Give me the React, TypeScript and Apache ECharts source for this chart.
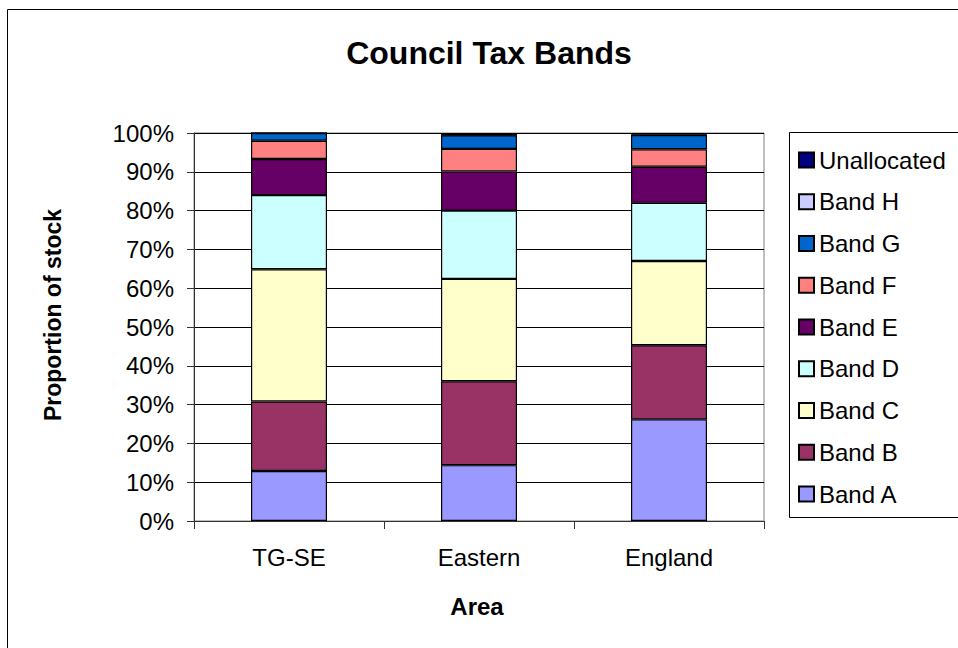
import React, { useEffect, useRef } from "react";
import * as echarts from "echarts";

const categories = ["TG-SE", "Eastern", "England"];
const bandNames = ["Band A", "Band B", "Band C", "Band D", "Band E", "Band F", "Band G", "Band H", "Unallocated"];
const bandA = [12.9, 14.4, 26.2];
const bandB = [17.9, 21.6, 19.1];
const bandC = [34.1, 26.4, 21.7];
const bandD = [19.1, 17.6, 15.0];
const bandE = [9.3, 10.1, 9.3];
const bandF = [4.7, 5.8, 4.5];
const bandG = [2.0, 3.5, 3.7];
const bandH = [0.0, 0.1, 0.1];
const unallocated = [0.0, 0.5, 0.4];
const bandColors = ["#9999FF", "#993366", "#FFFFCC", "#CCFFFF", "#660066", "#FF8080", "#0066CC", "#CCCCFF", "#000080"];

const FONT = "Liberation Sans, Arial, sans-serif";

export default function App() {
  const ref = useRef<HTMLDivElement>(null);
  useEffect(() => {
    if (!ref.current) return;
    const chart = echarts.init(ref.current, undefined, { renderer: "svg" });
    const values = [bandA, bandB, bandC, bandD, bandE, bandF, bandG, bandH, unallocated];
    const series = bandNames.map((name, i) => ({
      name,
      type: "bar",
      stack: "total",
      barWidth: 76,
      data: values[i],
      itemStyle: { color: bandColors[i], borderColor: "#000", borderWidth: 1.2 },
    }));
    chart.setOption({
      animation: false,
      backgroundColor: "#fff",
      textStyle: { fontFamily: FONT },
      grid: {
        left: 194,
        top: 133,
        width: 570,
        height: 388,
        show: true,
        borderColor: "#808080",
        borderWidth: 1,
        containLabel: false,
      },
      xAxis: {
        type: "category",
        data: categories,
        axisLine: { lineStyle: { color: "#333", width: 1 } },
        axisTick: { show: true, alignWithLabel: false, length: 8, lineStyle: { color: "#333" } },
        axisLabel: { fontSize: 24, color: "#000", margin: 24, fontFamily: FONT },
        splitLine: { show: false },
      },
      yAxis: {
        type: "value",
        min: 0,
        max: 100,
        interval: 10,
        axisLine: { show: true, lineStyle: { color: "#333", width: 1 } },
        axisTick: { show: true, length: 7, lineStyle: { color: "#333" } },
        axisLabel: { fontSize: 24, color: "#000", margin: 20, formatter: "{value}%", fontFamily: FONT },
        splitLine: { show: true, lineStyle: { color: "#000", width: 1 } },
      },
      legend: {
        orient: "vertical",
        left: 798,
        top: 148,
        padding: 0,
        itemGap: 17.75,
        itemWidth: 15,
        itemHeight: 15,
        icon: "rect",
        data: [...bandNames].reverse(),
        textStyle: { fontSize: 24, color: "#000", fontFamily: FONT },
      },
      graphic: [
        {
          type: "rect",
          silent: true,
          shape: { x: 7.5, y: 9.5, width: 1000, height: 700 },
          style: { fill: "none", stroke: "#000", lineWidth: 1 },
          z: -10,
        },
        {
          type: "rect",
          silent: true,
          shape: { x: 789.5, y: 132.5, width: 200, height: 385 },
          style: { fill: "none", stroke: "#000", lineWidth: 1 },
        },
        {
          type: "text",
          x: 489,
          y: 53,
          style: {
            text: "Council Tax Bands",
            font: "bold 32px " + FONT,
            fill: "#000",
            textAlign: "center",
            textVerticalAlign: "middle",
          },
        },
        {
          type: "text",
          x: 477,
          y: 606,
          style: {
            text: "Area",
            font: "bold 24px " + FONT,
            fill: "#000",
            textAlign: "center",
            textVerticalAlign: "middle",
          },
        },
        {
          type: "text",
          x: 53,
          y: 315,
          rotation: Math.PI / 2,
          style: {
            text: "Proportion of stock",
            font: "bold 23px " + FONT,
            fill: "#000",
            textAlign: "center",
            textVerticalAlign: "middle",
          },
        },
      ],
      series,
    });
    return () => chart.dispose();
  }, []);
  return (
    <div
      ref={ref}
      style={{ position: "fixed", left: 0, top: 0, width: 958, height: 648, background: "#fff" }}
    />
  );
}
